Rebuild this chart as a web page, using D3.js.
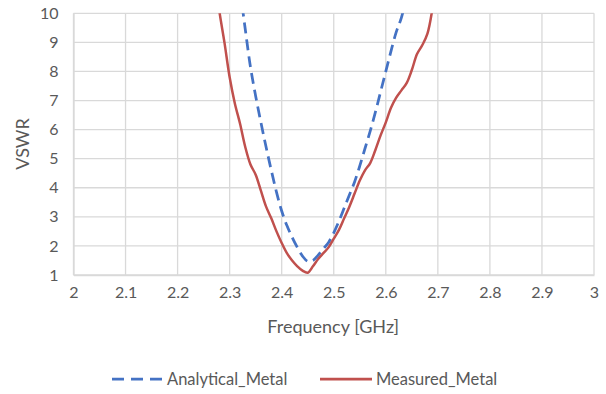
<!DOCTYPE html>
<html>
<head>
<meta charset="utf-8">
<script src="https://cdn.jsdelivr.net/npm/d3@7"></script>
<style>
  html, body { margin: 0; padding: 0; background: #fff; }
  svg { display: block; }
  text { font-family: Lato, "Open Sans", sans-serif; fill: #595959; }
</style>
</head>
<body>
<svg id="chart" width="606" height="394"></svg>
<script>
// ---- Data ----
const xTicks = [2, 2.1, 2.2, 2.3, 2.4, 2.5, 2.6, 2.7, 2.8, 2.9, 3];
const xTickLabels = ["2", "2.1", "2.2", "2.3", "2.4", "2.5", "2.6", "2.7", "2.8", "2.9", "3"];
const yTicks = [1, 2, 3, 4, 5, 6, 7, 8, 9, 10];

const analyticalFreq = [2.31, 2.32, 2.33, 2.34, 2.35, 2.36, 2.37, 2.38, 2.39, 2.40,
  2.41, 2.42, 2.43, 2.44, 2.45, 2.46, 2.47, 2.48, 2.49, 2.50,
  2.51, 2.52, 2.53, 2.54, 2.55, 2.56, 2.57, 2.58, 2.59, 2.60,
  2.61, 2.62, 2.63, 2.64, 2.65];
const analyticalVSWR = [12.0, 10.8, 9.45, 8.15, 7.15, 6.25, 5.4, 4.6, 3.85, 3.2,
  2.7, 2.3, 1.95, 1.65, 1.47, 1.5, 1.68, 1.9, 2.12, 2.45,
  2.85, 3.3, 3.75, 4.2, 4.75, 5.35, 5.95, 6.6, 7.3, 8.0,
  8.7, 9.35, 9.85, 10.6, 11.4];

const measuredFreq = [2.27, 2.28, 2.29, 2.30, 2.31, 2.32, 2.33, 2.34, 2.35, 2.36,
  2.37, 2.38, 2.39, 2.40, 2.41, 2.42, 2.43, 2.44, 2.45, 2.46,
  2.47, 2.48, 2.49, 2.50, 2.51, 2.52, 2.53, 2.54, 2.55, 2.56,
  2.57, 2.58, 2.59, 2.60, 2.61, 2.62, 2.63, 2.64, 2.65, 2.66,
  2.67, 2.68, 2.69, 2.70];
const measuredVSWR = [11.5, 10.1, 9.0, 7.8, 6.9, 6.2, 5.4, 4.8, 4.45, 3.9,
  3.35, 2.95, 2.5, 2.1, 1.75, 1.5, 1.3, 1.15, 1.08, 1.3,
  1.55, 1.75, 1.95, 2.25, 2.55, 2.95, 3.35, 3.8, 4.25, 4.6,
  4.85, 5.3, 5.8, 6.25, 6.75, 7.1, 7.35, 7.6, 8.05, 8.6,
  8.9, 9.3, 10.2, 11.5];

const seriesNames = ["Analytical_Metal", "Measured_Metal"];
const seriesColors = ["#4472C4", "#C0504D"];

// ---- Layout ----
const svg = d3.select("#chart");
const plot = { left: 73.5, right: 594, top: 13.3, bottom: 275 };

const x = d3.scaleLinear().domain([2, 3]).range([plot.left, plot.right]);
const y = d3.scaleLinear().domain([1, 10]).range([plot.bottom, plot.top]);

// gridlines
const grid = svg.append("g");
grid.selectAll(".hg").data(yTicks).enter().append("line")
  .attr("x1", plot.left).attr("x2", plot.right)
  .attr("y1", d => y(d)).attr("y2", d => y(d))
  .attr("stroke", "#D9D9D9").attr("stroke-width", 1.3);
grid.selectAll(".vg").data(xTicks).enter().append("line")
  .attr("y1", plot.top).attr("y2", plot.bottom)
  .attr("x1", d => x(d)).attr("x2", d => x(d))
  .attr("stroke", "#D9D9D9").attr("stroke-width", 1.3);

// axes
const xAxis = d3.axisBottom(x).tickValues(xTicks)
  .tickFormat((d, i) => xTickLabels[i]).tickSize(0).tickPadding(12);
const gx = svg.append("g").attr("transform", `translate(0,${plot.bottom})`).call(xAxis);
gx.select(".domain").attr("stroke", "#D9D9D9").attr("stroke-width", 1.3);
gx.selectAll("text").style("font-size", "16px").attr("fill", "#595959");

const yAxis = d3.axisLeft(y).tickValues(yTicks).tickSize(0).tickPadding(15);
const gy = svg.append("g").attr("transform", `translate(${plot.left},0)`).call(yAxis);
gy.select(".domain").attr("stroke", "#D9D9D9").attr("stroke-width", 1.3);
gy.selectAll("text").style("font-size", "16px").attr("fill", "#595959");

// axis titles
svg.append("text").attr("x", (plot.left + plot.right) / 2 - 0.5).attr("y", 333)
  .attr("text-anchor", "middle").style("font-size", "18px").text("Frequency [GHz]");
svg.append("text").attr("transform", `translate(29,144) rotate(-90)`)
  .attr("text-anchor", "middle").style("font-size", "18px").text("VSWR");

// clip
svg.append("clipPath").attr("id", "clip").append("rect")
  .attr("x", plot.left).attr("y", plot.top)
  .attr("width", plot.right - plot.left).attr("height", plot.bottom - plot.top);

const line = d3.line().x(d => x(d[0])).y(d => y(d[1])).curve(d3.curveCatmullRom.alpha(0.5));

const analytical = analyticalFreq.map((f, i) => [f, analyticalVSWR[i]]);
const measured = measuredFreq.map((f, i) => [f, measuredVSWR[i]]);

const lines = svg.append("g").attr("clip-path", "url(#clip)");
lines.append("path").datum(analytical).attr("d", line)
  .attr("fill", "none").attr("stroke", seriesColors[0]).attr("stroke-width", 2.75)
  .attr("stroke-dasharray", "11,6");
lines.append("path").datum(measured).attr("d", line)
  .attr("fill", "none").attr("stroke", seriesColors[1]).attr("stroke-width", 2.5);

// legend
const legend = svg.append("g");
const legendItems = [
  { name: seriesNames[0], color: seriesColors[0], dash: "12,7", x0: 112, x1: 162, tx: 167 },
  { name: seriesNames[1], color: seriesColors[1], dash: null, x0: 320, x1: 372, tx: 376 }
];
legendItems.forEach(it => {
  legend.append("line").attr("x1", it.x0).attr("x2", it.x1).attr("y1", 379).attr("y2", 379)
    .attr("stroke", it.color).attr("stroke-width", 2.75)
    .attr("stroke-dasharray", it.dash);
  legend.append("text").attr("x", it.tx).attr("y", 385).style("font-size", "16.5px").text(it.name);
});
</script>
</body>
</html>
